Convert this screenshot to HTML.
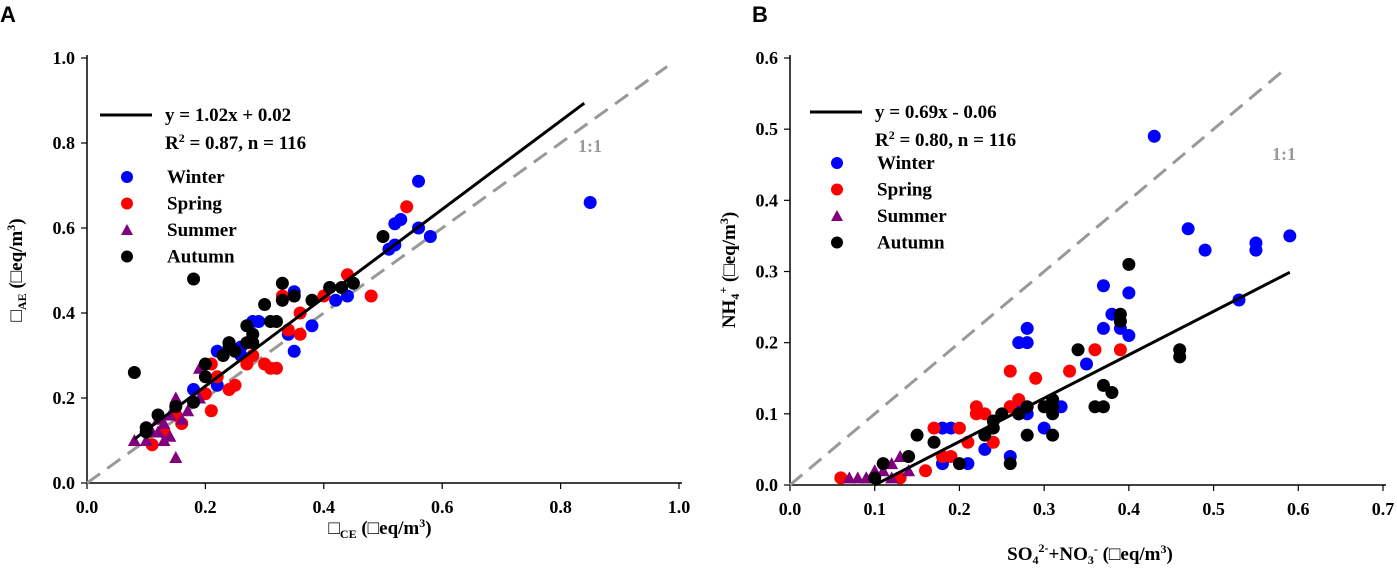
<!DOCTYPE html>
<html><head><meta charset="utf-8"><style>
body{margin:0;background:#fff;width:1397px;height:576px;overflow:hidden}
svg{font-family:"Liberation Serif",serif;font-weight:bold}
</style></head><body>
<svg id="c" width="1397" height="576"></svg>
<script>
const aWinter=[[0.85,0.66],[0.56,0.71],[0.53,0.62],[0.52,0.61],[0.51,0.55],[0.52,0.56],[0.56,0.60],[0.58,0.58],[0.41,0.46],[0.42,0.43],[0.44,0.44],[0.38,0.37],[0.35,0.31],[0.34,0.35],[0.35,0.45],[0.29,0.38],[0.28,0.38],[0.26,0.30],[0.22,0.31],[0.22,0.23],[0.18,0.22],[0.24,0.33],[0.26,0.32],[0.35,0.44]];
const aSpring=[[0.54,0.65],[0.48,0.44],[0.44,0.49],[0.40,0.44],[0.36,0.35],[0.34,0.36],[0.33,0.44],[0.30,0.28],[0.31,0.27],[0.32,0.27],[0.27,0.28],[0.24,0.22],[0.25,0.23],[0.21,0.17],[0.20,0.21],[0.22,0.25],[0.16,0.14],[0.11,0.09],[0.13,0.12],[0.15,0.16],[0.36,0.40],[0.28,0.30],[0.21,0.28]];
const aSummer=[[0.08,0.10],[0.10,0.10],[0.12,0.12],[0.13,0.10],[0.14,0.11],[0.15,0.06],[0.16,0.15],[0.12,0.15],[0.14,0.16],[0.15,0.20],[0.19,0.27],[0.19,0.20],[0.17,0.17],[0.11,0.12],[0.13,0.14]];
const aAutumn=[[0.08,0.26],[0.18,0.48],[0.10,0.12],[0.10,0.13],[0.12,0.16],[0.15,0.18],[0.18,0.19],[0.20,0.25],[0.20,0.28],[0.23,0.30],[0.24,0.33],[0.25,0.31],[0.24,0.32],[0.27,0.37],[0.27,0.33],[0.28,0.33],[0.28,0.35],[0.30,0.42],[0.31,0.38],[0.32,0.38],[0.33,0.43],[0.33,0.47],[0.35,0.44],[0.38,0.43],[0.41,0.46],[0.43,0.46],[0.45,0.47],[0.50,0.58]];
const bWinter=[[0.43,0.49],[0.47,0.36],[0.49,0.33],[0.55,0.34],[0.55,0.33],[0.59,0.35],[0.53,0.26],[0.37,0.28],[0.40,0.27],[0.38,0.24],[0.37,0.22],[0.39,0.22],[0.40,0.21],[0.28,0.22],[0.27,0.20],[0.28,0.20],[0.35,0.17],[0.32,0.11],[0.27,0.11],[0.28,0.10],[0.30,0.08],[0.19,0.08],[0.18,0.08],[0.26,0.04],[0.23,0.05],[0.21,0.03],[0.18,0.03],[0.27,0.10]];
const bSpring=[[0.36,0.19],[0.39,0.19],[0.33,0.16],[0.26,0.16],[0.27,0.12],[0.29,0.15],[0.26,0.11],[0.22,0.11],[0.22,0.10],[0.23,0.10],[0.17,0.08],[0.20,0.08],[0.21,0.06],[0.24,0.06],[0.16,0.02],[0.19,0.04],[0.18,0.04],[0.13,0.01],[0.06,0.01],[0.26,0.11]];
const bSummer=[[0.07,0.01],[0.08,0.01],[0.09,0.01],[0.10,0.02],[0.11,0.02],[0.12,0.03],[0.13,0.04],[0.14,0.02],[0.12,0.01],[0.09,0.01]];
const bAutumn=[[0.40,0.31],[0.39,0.24],[0.39,0.23],[0.46,0.19],[0.46,0.18],[0.34,0.19],[0.37,0.14],[0.38,0.13],[0.37,0.11],[0.36,0.11],[0.31,0.12],[0.31,0.11],[0.31,0.10],[0.31,0.07],[0.28,0.07],[0.26,0.03],[0.27,0.10],[0.28,0.11],[0.25,0.10],[0.24,0.09],[0.24,0.08],[0.23,0.07],[0.20,0.03],[0.14,0.04],[0.15,0.07],[0.17,0.06],[0.11,0.03],[0.10,0.01],[0.30,0.11]];
const aXTicks=["0.0","0.2","0.4","0.6","0.8","1.0"];
const aYTicks=["0.0","0.2","0.4","0.6","0.8","1.0"];
const bXTicks=["0.0","0.1","0.2","0.3","0.4","0.5","0.6","0.7"];
const bYTicks=["0.0","0.1","0.2","0.3","0.4","0.5","0.6"];
const aFit=[1.04,0.02,0.08,0.84];
const bFit=[0.61,-0.061,0.1,0.59];

const NS="http://www.w3.org/2000/svg",svg=document.getElementById('c');
function el(t,a,txt){const e=document.createElementNS(NS,t);for(const k in a)e.setAttribute(k,a[k]);if(txt!==undefined)e.textContent=txt;svg.appendChild(e);return e;}
const colors={Winter:"#0000ff",Spring:"#ff0000",Summer:"#800080",Autumn:"#000000"};

function panel(p){
  const X=v=>p.x0+(v-p.xmin)/(p.xmax-p.xmin)*(p.x1-p.x0);
  const Y=v=>p.y0-(v-p.ymin)/(p.ymax-p.ymin)*(p.y0-p.y1);
  let e;
  e=el('line',{x1:p.x0,y1:p.y0,x2:p.x1+3,y2:p.y0,stroke:'#000','stroke-width':1.5});
  
  e=el('line',{x1:p.x0,y1:p.y0,x2:p.x0,y2:p.y1-3,stroke:'#000','stroke-width':1.5});
  
  p.xt.forEach(t=>{const v=parseFloat(t),x=X(v);
    el('line',{x1:x,y1:p.y0,x2:x,y2:p.y0+6,stroke:'#000','stroke-width':1.2});
    e=el('text',{x:x,y:p.y0+30,'text-anchor':'middle','font-size':18},t);
    });
  p.yt.forEach(t=>{const v=parseFloat(t),y=Y(v);
    el('line',{x1:p.x0-6,y1:y,x2:p.x0,y2:y,stroke:'#000','stroke-width':1.2});
    e=el('text',{x:p.x0-12,y:y+6,'text-anchor':'end','font-size':18},t);
    });
  e=el('line',{x1:X(0),y1:Y(0),x2:X(p.oneEnd),y2:Y(p.oneEnd),stroke:'#999','stroke-width':3,'stroke-dasharray':'16,9'});
  
  e=el('text',{x:p.oneLbl[0],y:p.oneLbl[1],fill:'#999','font-size':18},'1:1');
  
  const series=[["Winter",p.s[0]],["Spring",p.s[1]],["Summer",p.s[2]],["Autumn",p.s[3]]];
  series.forEach(([n,d])=>d.forEach(([a,b])=>{const x=X(a),y=Y(b);
    if(n==="Summer"){e=el('polygon',{points:`${x},${y-6.5} ${x-6.5},${y+5.5} ${x+6.5},${y+5.5}`,fill:colors[n]});}
    else e=el('circle',{cx:x,cy:y,r:6.5,fill:colors[n]});
    }));
  const f=p.fit;
  e=el('line',{x1:X(f[2]),y1:Y(f[0]*f[2]+f[1]),x2:X(f[3]),y2:Y(f[0]*f[3]+f[1]),stroke:'#000','stroke-width':3});
  
  const L=p.leg;
  el('line',{x1:L.x,y1:L.y,x2:L.x+52,y2:L.y,stroke:'#000','stroke-width':3});
  e=el('text',{x:L.x+65,y:L.y+6,'font-size':19},p.eq);
  e=el('text',{x:L.x+65,y:L.y+34,'font-size':19});
  e.innerHTML='R<tspan dy="-7" font-size="12">2</tspan><tspan dy="7"> = '+p.r2+'</tspan>';
  series.forEach(([n],i)=>{const y=L.ly+i*26.5,x=L.x+27;
    if(n==="Summer")el('polygon',{points:`${x},${y-6} ${x-6},${y+5} ${x+6},${y+5}`,fill:colors[n]});
    else el('circle',{cx:x,cy:y,r:6,fill:colors[n]});
    e=el('text',{x:L.x+67,y:y+6,'font-size':19},n);
    });
}
panel({id:'a',x0:87,x1:679,y0:483,y1:58,xmin:0,xmax:1,ymin:0,ymax:1,xt:aXTicks,yt:aYTicks,s:[aWinter,aSpring,aSummer,aAutumn],fit:aFit,oneEnd:0.98,oneLbl:[578,152],eq:'y = 1.02x + 0.02',r2:'0.87, n = 116',leg:{x:100,y:115,ly:177}});
panel({id:'b',x0:790,x1:1383,y0:485,y1:58,xmin:0,xmax:0.7,ymin:0,ymax:0.6,xt:bXTicks,yt:bYTicks,s:[bWinter,bSpring,bSummer,bAutumn],fit:bFit,oneEnd:0.585,oneLbl:[1272,160],eq:'y = 0.69x - 0.06',r2:'0.80, n = 116',leg:{x:810,y:112,ly:163}});
let e;
e=el('text',{x:0,y:22,'font-size':22,'font-family':'Liberation Sans'},'A');
e=el('text',{x:752,y:22,'font-size':22,'font-family':'Liberation Sans'},'B');
e=el('text',{x:380,y:534,'text-anchor':'middle','font-size':19});
e.innerHTML='□<tspan font-size="12" dy="4">CE</tspan><tspan dy="-4"> (□eq/m</tspan><tspan font-size="12" dy="-7">3</tspan><tspan dy="7">)</tspan>';
e=el('text',{x:0,y:0,'text-anchor':'middle','font-size':19,transform:'translate(22,270) rotate(-90)'});
e.innerHTML='□<tspan font-size="12" dy="4">AE</tspan><tspan dy="-4"> (□eq/m</tspan><tspan font-size="12" dy="-7">3</tspan><tspan dy="7">)</tspan>';
e=el('text',{x:1090,y:560,'text-anchor':'middle','font-size':19});
e.innerHTML='SO<tspan font-size="12" dy="4">4</tspan><tspan font-size="12" dy="-12">2-</tspan><tspan dy="8">+NO</tspan><tspan font-size="12" dy="4">3</tspan><tspan font-size="12" dy="-11">-</tspan><tspan dy="7"> (□eq/m</tspan><tspan font-size="12" dy="-7">3</tspan><tspan dy="7">)</tspan>';
e=el('text',{x:0,y:0,'text-anchor':'middle','font-size':19,transform:'translate(735,270) rotate(-90)'});
e.innerHTML='NH<tspan font-size="12" dy="4">4</tspan><tspan font-size="12" dy="-12">+</tspan><tspan dy="8"> (□eq/m</tspan><tspan font-size="12" dy="-7">3</tspan><tspan dy="7">)</tspan>';
</script>
</body></html>
